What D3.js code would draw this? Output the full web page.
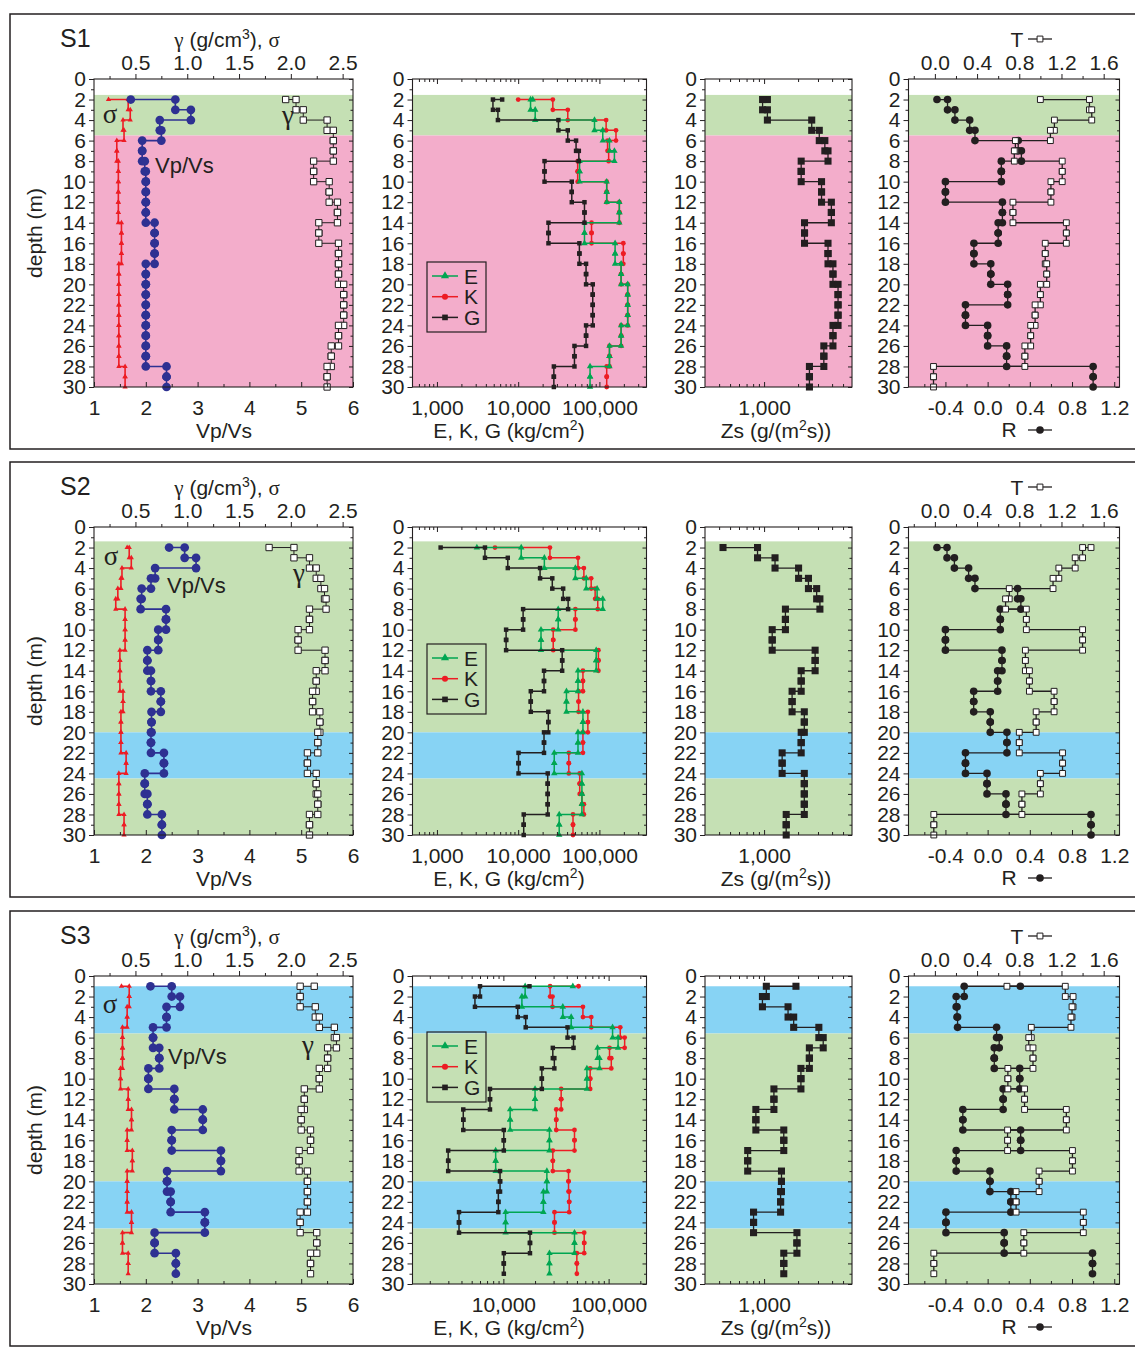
<!DOCTYPE html>
<html>
<head>
<meta charset="utf-8">
<script src="https://cdn.jsdelivr.net/npm/d3@7"></script>
<style>
body { margin: 0; background: #fff; }
svg text { font-family: "Liberation Sans", Arial, sans-serif; font-size: 21px; fill: #231f20; }
</style>
</head>
<body>
<svg id="chart" width="1135" height="1347"></svg>
<script>
// depth of each layer knot (m)
const depthS12 = [2,3,4,5,6,7,8,9,10,11,12,13,14,15,16,17,18,19,20,21,22,23,24,25,26,27,28,29,30];
const depthS3 = [1,2,3,4,5,6,7,8,9,10,11,12,13,14,15,16,17,18,19,20,21,22,23,24,25,26,27,28,29];

// ---- S1 ----
const s1VpVs = [1.71,2.57,2.87,2.27,2.3,1.93,1.93,1.98,2.0,2.0,2.0,2.0,2.0,2.17,2.17,2.17,2.17,2.0,2.0,2.0,2.0,2.0,2.0,2.0,2.0,2.0,2.0,2.4,2.4];
const s1Sigma = [0.24,0.43,0.45,0.38,0.39,0.32,0.32,0.335,0.335,0.335,0.335,0.335,0.335,0.365,0.365,0.365,0.365,0.34,0.34,0.34,0.34,0.34,0.34,0.34,0.34,0.34,0.34,0.40,0.40];
const s1Gamma = [1.95,2.05,2.12,2.35,2.41,2.41,2.41,2.22,2.22,2.37,2.37,2.45,2.45,2.27,2.27,2.46,2.46,2.46,2.46,2.51,2.51,2.51,2.51,2.46,2.46,2.39,2.39,2.35,2.35];
const s1E = [15100,14200,16200,87000,110000,133000,153000,57000,57000,123000,123000,176000,176000,65500,65500,156000,156000,185000,185000,223000,223000,223000,223000,185000,185000,133000,133000,76700,76700];
const s1K = [10000,26700,40800,121000,160000,126000,130000,54000,54000,123000,123000,176000,176000,80000,80000,197000,197000,185000,185000,223000,223000,223000,223000,185000,185000,133000,133000,123000,123000];
const s1G = [6350,4890,5630,31300,40800,51600,55800,21100,21100,45700,45700,65500,65500,23600,23600,56700,56700,68500,68500,82800,82800,82800,82800,68500,68500,49300,49300,27500,27500];
const s1Zs = [1070,970,1070,2640,3080,3450,3680,2130,2130,3225,3225,3940,3940,2280,2280,3680,3680,4070,4070,4515,4515,4515,4515,4070,4070,3380,3380,2520,2520];
const s1R = [-0.48,-0.38,-0.31,-0.17,-0.12,0.29,0.32,0.13,0.13,-0.4,-0.4,0.14,0.14,0.10,0.10,-0.13,-0.13,0.03,0.03,0.19,0.19,-0.21,-0.21,0.0,0.0,0.18,0.18,1.0,1.0];
const s1T = [1.0,1.465,1.487,1.133,1.095,0.763,0.753,1.207,1.207,1.10,1.10,0.74,0.74,1.246,1.246,1.046,1.046,1.06,1.06,1.0,1.0,0.95,0.95,0.908,0.908,0.853,0.853,-0.013,-0.013];
const s1Bands = [[1.55, 5.5, "green"], [5.5, 30, "pink"]];

// ---- S2 ----
const s2VpVs = [2.45,2.75,2.97,2.18,2.1,1.92,1.9,2.39,2.39,2.24,2.24,2.03,2.03,2.1,2.1,2.29,2.29,2.11,2.11,2.1,2.1,2.35,2.35,1.98,1.98,2.03,2.03,2.31,2.31];
const s2Sigma = [0.42,0.44,0.46,0.37,0.36,0.33,0.31,0.40,0.40,0.40,0.40,0.35,0.35,0.35,0.35,0.38,0.38,0.36,0.36,0.36,0.36,0.41,0.41,0.34,0.34,0.34,0.34,0.39,0.39];
const s2Gamma = [1.79,2.03,2.18,2.245,2.29,2.325,2.34,2.18,2.18,2.07,2.07,2.33,2.33,2.245,2.245,2.21,2.21,2.28,2.28,2.26,2.26,2.16,2.16,2.245,2.245,2.26,2.26,2.18,2.18];
const s2E = [3100,10900,21000,50600,68800,93700,110000,31100,31100,19100,19100,91300,91300,54500,54500,39300,39300,62700,62700,54500,54500,27800,27800,60900,60900,60900,60900,32000,32000];
const s2K = [5180,24600,54500,64400,79200,88600,95400,50600,50600,27000,27000,97200,97200,62700,62700,55400,55400,72100,72100,62700,62700,42000,42000,57200,57200,61000,64400,47300,47300];
const s2G = [1110,3900,7450,18600,26300,35800,41200,11500,11500,7100,7100,34800,34800,20800,20800,14300,14300,23500,23500,20800,20800,10100,10100,23100,23100,23100,23100,11700,11700];
const s2Zs = [433,875,1250,2020,2470,2920,3120,1545,1545,1180,1180,2830,2830,2130,2130,1770,1770,2270,2270,2130,2130,1445,1445,2270,2270,2270,2270,1570,1570];
const s2R = [-0.48,-0.385,-0.315,-0.18,-0.12,0.284,0.315,0.12,0.12,-0.4,-0.4,0.136,0.136,0.095,0.095,-0.132,-0.132,0.025,0.025,0.183,0.183,-0.21,-0.21,-0.006,-0.006,0.174,0.174,0.98,0.98];
const s2T = [1.48,1.40,1.33,1.175,1.12,0.705,0.67,0.867,0.867,1.40,1.40,0.858,0.858,0.896,0.896,1.13,1.13,0.96,0.96,0.80,0.80,1.21,1.21,1.0,1.0,0.825,0.825,-0.01,-0.01];
const s2Bands = [[1.4, 20, "green"], [20, 24.5, "blue"], [24.5, 30, "green"]];

// ---- S3 ----
const s3VpVs = [2.09,2.50,2.66,2.40,2.40,2.14,2.14,2.26,2.26,2.05,2.05,2.55,2.55,3.10,3.10,2.50,2.50,3.45,3.45,2.41,2.41,2.48,2.48,3.14,3.14,2.17,2.17,2.58,2.58];
const s3Sigma = [0.365,0.44,0.44,0.42,0.42,0.375,0.375,0.375,0.375,0.356,0.356,0.43,0.43,0.462,0.462,0.42,0.42,0.47,0.47,0.42,0.42,0.42,0.42,0.462,0.462,0.375,0.375,0.43,0.43];
const s3Gamma = [2.226,2.09,2.09,2.236,2.275,2.42,2.44,2.355,2.355,2.275,2.275,2.13,2.13,2.10,2.10,2.19,2.19,2.08,2.08,2.16,2.16,2.16,2.16,2.09,2.09,2.25,2.25,2.19,2.19];
const s3E = [45700,16100,15000,36700,44100,109000,123000,78500,82000,62200,62200,20000,20000,11600,11600,27400,27400,8450,8450,25900,25900,24000,24000,10500,10500,47400,47400,27400,27400];
const s3K = [51800,27800,29300,57000,68400,129000,142000,102000,106000,66800,66800,35400,35400,31800,31800,47400,47400,29500,29500,41600,41600,42200,42200,30600,30600,58600,58600,49900,49900];
const s3G = [17700,6000,5370,13700,16300,40700,46400,29500,30500,23200,23200,7460,7460,4160,4160,10100,10100,2990,2990,9300,9300,8960,8960,3790,3790,17900,17900,10100,10100];
const s3Zs = [1915,1047,967,1630,1828,3053,3337,2517,2517,2119,2119,1222,1222,846,846,1494,1494,716,716,1426,1426,1400,1400,807,807,1953,1953,1494,1494];
const s3R = [0.31,-0.222,-0.298,-0.29,-0.285,0.085,0.11,0.063,0.063,0.304,0.304,0.147,0.147,-0.235,-0.235,0.313,0.313,-0.298,-0.298,0.022,0.022,0.22,0.22,-0.395,-0.395,0.157,0.157,0.994,0.994];
const s3T = [0.683,1.236,1.31,1.30,1.29,0.914,0.89,0.93,0.93,0.692,0.692,0.85,0.85,1.246,1.246,0.689,0.689,1.304,1.304,0.988,0.988,0.77,0.77,1.407,1.407,0.843,0.843,-0.01,-0.01];
const s3Bands = [[1.0, 5.6, "blue"], [5.6, 20, "green"], [20, 24.6, "blue"], [24.6, 30, "green"]];

// tick labels
const depthTicks = [0,2,4,6,8,10,12,14,16,18,20,22,24,26,28,30];
const vpvsTicks = [1,2,3,4,5,6];
const gammaTicks = [0.5,1.0,1.5,2.0,2.5];
const modTicksS12 = [1000,10000,100000];
const modTicksS3 = [10000,100000];
const zsTicks = [1000];
const rTicks = [-0.4,0.0,0.4,0.8,1.2];
const tTicks = [0.0,0.4,0.8,1.2,1.6];
const legendKeys = ["E","K","G"];

const sites = [
  {name: "S1", depth: depthS12, vpvs: s1VpVs, sigma: s1Sigma, gamma: s1Gamma, E: s1E, K: s1K, G: s1G, zs: s1Zs, R: s1R, T: s1T, bands: s1Bands, modDomain: [500, 380000], modTicks: modTicksS12},
  {name: "S2", depth: depthS12, vpvs: s2VpVs, sigma: s2Sigma, gamma: s2Gamma, E: s2E, K: s2K, G: s2G, zs: s2Zs, R: s2R, T: s2T, bands: s2Bands, modDomain: [500, 380000], modTicks: modTicksS12},
  {name: "S3", depth: depthS3, vpvs: s3VpVs, sigma: s3Sigma, gamma: s3Gamma, E: s3E, K: s3K, G: s3G, zs: s3Zs, R: s3R, T: s3T, bands: s3Bands, modDomain: [1370, 229000], modTicks: modTicksS3}
];

// layout
const rowOff = [0, 448, 897];
const plotTop = 79, plotBot = 387;
const P1 = [94, 353], P2 = [412.5, 646.5], P3 = [705, 852], P4 = [908.5, 1119.5];
const bandColor = {green: "#c5e0b4", pink: "#f3adcb", blue: "#87d3f4"};
const ink = "#231f20";
const blue = "#2e3192", red = "#ed1c24", green = "#00a651";
// in-plot labels per row: [x, baseline]
const sigmaLab = [[110, 123], [111, 117], [110, 116]];
const gammaLab = [[288, 124], [299, 134], [308, 157]];
const vpvsLab = [[155, 173], [167, 145], [168, 167]];
const legendTop = [262, 644, 1032];

const svg = d3.select("#chart");
const fmt1 = d => (d < 0 ? "-" : "") + Math.abs(d).toFixed(1);

function logMinor(domain) {
  const out = [];
  for (let e = 2; e <= 6; e++) {
    for (let m = 2; m <= 9; m++) {
      const v = m * Math.pow(10, e);
      if (v > domain[0] && v < domain[1]) out.push(v);
    }
  }
  return out;
}

function addAxis(g, axis, tx, ty) {
  const a = g.append("g").attr("transform", `translate(${tx},${ty})`).call(axis);
  a.select(".domain").remove();
  a.selectAll("line").attr("stroke", ink).attr("stroke-width", 1);
  a.attr("font-size", null).attr("font-family", null);
  return a;
}

function drawBands(g, site, xr, y) {
  g.selectAll(null).data(site.bands).join("rect")
    .attr("x", xr[0]).attr("width", xr[1] - xr[0])
    .attr("y", d => y(d[0])).attr("height", d => y(d[1]) - y(d[0]))
    .attr("fill", d => bandColor[d[2]]);
}

function frameAndDepth(g, xr, y) {
  g.append("rect").attr("x", xr[0]).attr("y", y(0)).attr("width", xr[1] - xr[0]).attr("height", y(30) - y(0))
    .attr("fill", "none").attr("stroke", ink).attr("stroke-width", 1.1);
  const minor = d3.range(1, 30, 2);
  addAxis(g, d3.axisLeft(y).tickValues(depthTicks).tickSize(5).tickPadding(3).tickFormat(d3.format("d")), xr[0], 0);
  addAxis(g, d3.axisLeft(y).tickValues(minor).tickSize(3).tickFormat(""), xr[0], 0);
  addAxis(g, d3.axisLeft(y).tickValues(depthTicks).tickSize(4).tickFormat(""), xr[1], 0);
  addAxis(g, d3.axisLeft(y).tickValues(minor).tickSize(2.5).tickFormat(""), xr[1], 0);
}

function stepSeries(g, xs, y, depths, vals, o) {
  const knots = depths.map((d, i) => [vals[i], d]);
  g.append("path").datum(knots)
    .attr("fill", "none").attr("stroke", o.color).attr("stroke-width", o.width)
    .attr("d", d3.line().x(d => xs(d[0])).y(d => y(d[1])).curve(d3.curveStepAfter));
  const corners = [knots[0]];
  for (let i = 1; i < knots.length; i++) corners.push([vals[i], depths[i - 1]], knots[i]);
  g.selectAll(null).data(corners).join("path")
    .attr("transform", d => `translate(${xs(d[0])},${y(d[1])})`)
    .attr("d", d3.symbol().type(o.symbol).size(o.size))
    .attr("fill", o.fill).attr("stroke", o.stroke || "none").attr("stroke-width", o.sw || 1);
}

function titleText(g, x, y, parts, anchor) {
  const t = g.append("text").attr("x", x).attr("y", y).attr("text-anchor", anchor || "middle");
  parts.forEach(p => {
    const s = t.append("tspan").text(p.t);
    if (p.serif) s.style("font-family", '"Liberation Serif", serif');
    if (p.sup) s.attr("dy", -8).style("font-size", "14px");
    if (p.after) s.attr("dy", 8);
  });
  return t;
}

const modStyle = {
  E: {color: green, symbol: d3.symbolTriangle, size: 18},
  K: {color: red, symbol: d3.symbolCircle, size: 18},
  G: {color: ink, symbol: d3.symbolSquare, size: 20}
};

sites.forEach((site, r) => {
  const off = rowOff[r];
  const g = svg.append("g");
  const y = d3.scaleLinear().domain([0, 30]).range([plotTop + off, plotBot + off]);

  g.append("rect").attr("x", 10).attr("y", 14 + off).attr("width", 1140).attr("height", 435)
    .attr("fill", "none").attr("stroke", ink).attr("stroke-width", 1.5);

  g.append("text").attr("x", 60).attr("y", 47 + off).style("font-size", "25px").text(site.name);

  // ---- panel 1: Vp/Vs, sigma, gamma ----
  const xV = d3.scaleLinear().domain([1, 6]).range(P1);
  const xS = d3.scaleLinear().domain([0.1, 2.6]).range(P1);
  drawBands(g, site, P1, y);
  stepSeries(g, xS, y, site.depth, site.sigma, {color: red, width: 1.6, symbol: d3.symbolTriangle, size: 12, fill: red});
  stepSeries(g, xS, y, site.depth, site.gamma, {color: ink, width: 1, symbol: d3.symbolSquare, size: 40, fill: "#fff", stroke: ink, sw: 1});
  stepSeries(g, xV, y, site.depth, site.vpvs, {color: blue, width: 1.6, symbol: d3.symbolCircle, size: 60, fill: blue});
  frameAndDepth(g, P1, y);
  addAxis(g, d3.axisBottom(xV).tickValues(vpvsTicks).tickSize(-5).tickPadding(13).tickFormat(d3.format("d")), 0, plotBot + off);
  addAxis(g, d3.axisBottom(xV).tickValues([1.5, 2.5, 3.5, 4.5, 5.5]).tickSize(-3).tickFormat(""), 0, plotBot + off);
  addAxis(g, d3.axisTop(xS).tickValues(gammaTicks).tickSize(5).tickPadding(4).tickFormat(d3.format(".1f")), 0, plotTop + off);
  addAxis(g, d3.axisTop(xS).tickValues([0.25, 0.75, 1.25, 1.75, 2.25]).tickSize(3).tickFormat(""), 0, plotTop + off);
  titleText(g, 227, 47 + off, [{t: "γ", serif: true}, {t: " (g/cm"}, {t: "3", sup: true}, {t: "), ", after: true}, {t: "σ", serif: true}]);
  g.append("text").attr("x", 224).attr("y", 438 + off).attr("text-anchor", "middle").text("Vp/Vs");
  g.append("text").attr("transform", `translate(42,${233 + off}) rotate(-90)`).attr("text-anchor", "middle").text("depth (m)");
  g.append("text").attr("x", sigmaLab[r][0]).attr("y", sigmaLab[r][1] + off).attr("text-anchor", "middle")
    .style("font-family", '"Liberation Serif", serif').style("font-size", "27px").text("σ");
  g.append("text").attr("x", gammaLab[r][0]).attr("y", gammaLab[r][1] + off).attr("text-anchor", "middle")
    .style("font-family", '"Liberation Serif", serif').style("font-size", "27px").text("γ");
  g.append("text").attr("x", vpvsLab[r][0]).attr("y", vpvsLab[r][1] + off).style("font-size", "22px").text("Vp/Vs");

  // ---- panel 2: E, K, G ----
  const xM = d3.scaleLog().domain(site.modDomain).range(P2);
  drawBands(g, site, P2, y);
  stepSeries(g, xM, y, site.depth, site.K, {color: red, width: 1.5, symbol: d3.symbolCircle, size: 18, fill: red});
  stepSeries(g, xM, y, site.depth, site.E, {color: green, width: 1.5, symbol: d3.symbolTriangle, size: 18, fill: green});
  stepSeries(g, xM, y, site.depth, site.G, {color: ink, width: 1.5, symbol: d3.symbolSquare, size: 20, fill: ink});
  frameAndDepth(g, P2, y);
  const mMinor = logMinor(site.modDomain);
  addAxis(g, d3.axisBottom(xM).tickValues(site.modTicks).tickSize(-5).tickPadding(13).tickFormat(d3.format(",")), 0, plotBot + off);
  addAxis(g, d3.axisBottom(xM).tickValues(mMinor).tickSize(-3).tickFormat(""), 0, plotBot + off);
  addAxis(g, d3.axisTop(xM).tickValues(site.modTicks).tickSize(-5).tickFormat(""), 0, plotTop + off);
  addAxis(g, d3.axisTop(xM).tickValues(mMinor).tickSize(-3).tickFormat(""), 0, plotTop + off);
  titleText(g, 509, 438 + off, [{t: "E, K, G (kg/cm"}, {t: "2", sup: true}, {t: ")", after: true}]);
  const lg = g.append("g").attr("transform", `translate(427,${legendTop[r]})`);
  lg.append("rect").attr("width", 59).attr("height", 70).attr("fill", "none").attr("stroke", ink).attr("stroke-width", 1.2);
  legendKeys.forEach((k, i) => {
    const yy = 14 + i * 20.7;
    const st = modStyle[k];
    lg.append("line").attr("x1", 5).attr("x2", 31).attr("y1", yy).attr("y2", yy).attr("stroke", st.color).attr("stroke-width", 1.5);
    lg.append("path").attr("transform", `translate(18,${yy})`).attr("d", d3.symbol().type(st.symbol).size(st.size * 1.6)).attr("fill", st.color);
    lg.append("text").attr("x", 37).attr("y", yy + 7.5).text(k);
  });

  // ---- panel 3: Zs ----
  const zDomain = [300, 6000];
  const xZ = d3.scaleLog().domain(zDomain).range(P3);
  drawBands(g, site, P3, y);
  stepSeries(g, xZ, y, site.depth, site.zs, {color: ink, width: 1.3, symbol: d3.symbolSquare, size: 50, fill: ink});
  frameAndDepth(g, P3, y);
  const zMinor = logMinor(zDomain);
  addAxis(g, d3.axisBottom(xZ).tickValues(zsTicks).tickSize(-5).tickPadding(13).tickFormat(d3.format(",")), 0, plotBot + off);
  addAxis(g, d3.axisBottom(xZ).tickValues(zMinor).tickSize(-3).tickFormat(""), 0, plotBot + off);
  addAxis(g, d3.axisTop(xZ).tickValues(zsTicks).tickSize(-5).tickFormat(""), 0, plotTop + off);
  addAxis(g, d3.axisTop(xZ).tickValues(zMinor).tickSize(-3).tickFormat(""), 0, plotTop + off);
  titleText(g, 776, 438 + off, [{t: "Zs (g/(m"}, {t: "2", sup: true}, {t: "s))", after: true}]);

  // ---- panel 4: R, T ----
  const xR = d3.scaleLinear().domain([-0.75, 1.25]).range(P4);
  const xT = d3.scaleLinear().domain([-0.25, 1.75]).range(P4);
  drawBands(g, site, P4, y);
  stepSeries(g, xR, y, site.depth, site.R, {color: ink, width: 1.3, symbol: d3.symbolCircle, size: 46, fill: ink});
  stepSeries(g, xT, y, site.depth, site.T, {color: ink, width: 1.3, symbol: d3.symbolSquare, size: 34, fill: "#fff", stroke: ink, sw: 1});
  frameAndDepth(g, P4, y);
  addAxis(g, d3.axisBottom(xR).tickValues(rTicks).tickSize(-5).tickPadding(13).tickFormat(fmt1), 0, plotBot + off);
  addAxis(g, d3.axisBottom(xR).tickValues([-0.6, -0.2, 0.2, 0.6, 1.0]).tickSize(-3).tickFormat(""), 0, plotBot + off);
  addAxis(g, d3.axisTop(xT).tickValues(tTicks).tickSize(5).tickPadding(4).tickFormat(fmt1), 0, plotTop + off);
  addAxis(g, d3.axisTop(xT).tickValues([-0.2, 0.2, 0.6, 1.0, 1.4]).tickSize(3).tickFormat(""), 0, plotTop + off);
  // T header
  g.append("text").attr("x", 1017).attr("y", 47 + off).attr("text-anchor", "middle").text("T");
  g.append("line").attr("x1", 1028).attr("x2", 1052).attr("y1", 39 + off).attr("y2", 39 + off).attr("stroke", ink).attr("stroke-width", 1.3);
  g.append("path").attr("transform", `translate(1040,${39 + off})`).attr("d", d3.symbol().type(d3.symbolSquare).size(34)).attr("fill", "#fff").attr("stroke", ink);
  // R footer
  g.append("text").attr("x", 1009).attr("y", 437 + off).attr("text-anchor", "middle").text("R");
  g.append("line").attr("x1", 1028).attr("x2", 1052).attr("y1", 430 + off).attr("y2", 430 + off).attr("stroke", ink).attr("stroke-width", 1.3);
  g.append("path").attr("transform", `translate(1040,${430 + off})`).attr("d", d3.symbol().type(d3.symbolCircle).size(46)).attr("fill", ink);
});
</script>
</body>
</html>
